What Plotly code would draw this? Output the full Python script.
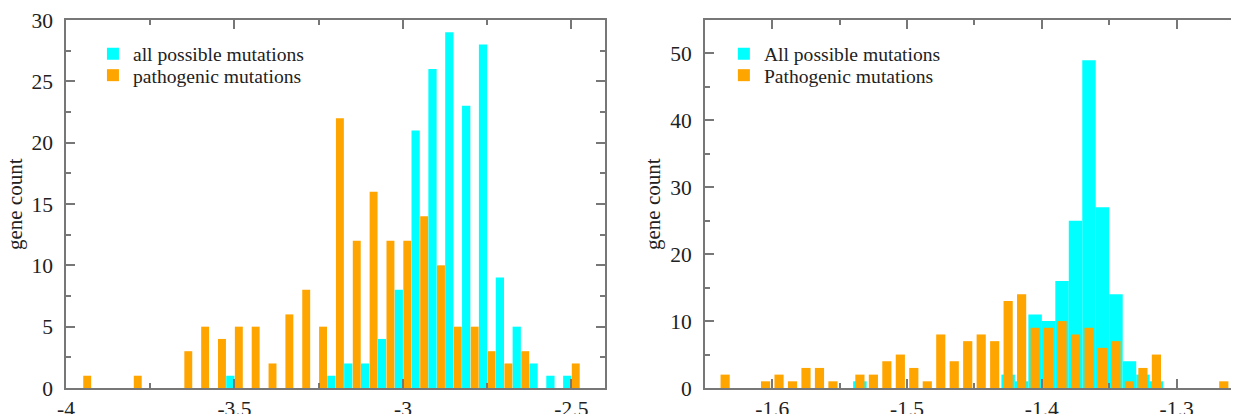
import plotly.graph_objects as go

# ---------------- data ----------------
# Left panel: bin centres (step 0.05) and counts
left_bins = [-4.00, -3.95, -3.90, -3.85, -3.80, -3.75, -3.70, -3.65, -3.60, -3.55,
             -3.50, -3.45, -3.40, -3.35, -3.30, -3.25, -3.20, -3.15, -3.10, -3.05,
             -3.00, -2.95, -2.90, -2.85, -2.80, -2.75, -2.70, -2.65, -2.60, -2.55,
             -2.50, -2.45]
left_all = [0, 0, 0, 0, 0, 0, 0, 0, 0, 0,
            1, 0, 0, 0, 0, 0, 1, 2, 2, 4,
            8, 21, 26, 29, 23, 28, 9, 5, 2, 1,
            1, 0]
left_path = [0, 1, 0, 0, 1, 0, 0, 3, 5, 4,
             5, 5, 2, 6, 8, 5, 22, 12, 16, 12,
             12, 14, 10, 5, 5, 3, 2, 3, 0, 0,
             2, 0]

# Right panel: bin centres (step 0.01) and counts
right_bins = [-1.645, -1.635, -1.625, -1.615, -1.605, -1.595, -1.585, -1.575, -1.565, -1.555,
              -1.545, -1.535, -1.525, -1.515, -1.505, -1.495, -1.485, -1.475, -1.465, -1.455,
              -1.445, -1.435, -1.425, -1.415, -1.405, -1.395, -1.385, -1.375, -1.365, -1.355,
              -1.345, -1.335, -1.325, -1.315, -1.305, -1.295, -1.285, -1.275, -1.265, -1.255]
right_all = [0, 0, 0, 0, 0, 0, 0, 0, 0, 0,
             0, 1, 0, 0, 0, 0, 0, 0, 0, 0,
             0, 0, 2, 1, 11, 10, 16, 25, 49, 27,
             14, 4, 2, 1, 0, 0, 0, 0, 0, 0]
right_path = [0, 2, 0, 0, 1, 2, 1, 3, 3, 1,
              0, 2, 2, 4, 5, 3, 1, 8, 4, 7,
              8, 7, 13, 14, 9, 9, 10, 8, 9, 6,
              7, 1, 3, 5, 0, 0, 0, 0, 1, 0]

left_names = ["all possible mutations", "pathogenic mutations"]
right_names = ["All possible mutations", "Pathogenic mutations"]

left_xticks = [-4, -3.5, -3, -2.5]
left_xticktext = ["-4", "-3.5", "-3", "-2.5"]
left_xminor = [-3.75, -3.25, -2.75]
right_xticks = [-1.6, -1.5, -1.4, -1.3]
right_xticktext = ["-1.6", "-1.5", "-1.4", "-1.3"]
right_xminor = [-1.55, -1.45, -1.35]

y_title = "gene count"

CYAN = "#00FFFF"
ORANGE = "#FFA500"
FONT = "Liberation Serif"
AXIS = "#777777"
TXT = "#222222"

W, H = 1239, 414
ml, mr, mt, mb = 58, 1, 12, 23
pw = W - ml - mr
ph = H - mt - mb


def px_x(p):
    return (p - ml) / pw


def px_y(p):
    return 1 - (p - mt) / ph


fig = go.Figure()

# left panel: cyan on the left half of each bin, orange on the right half
fig.add_trace(go.Bar(x=left_bins, y=left_all, name=left_names[0],
                     marker=dict(color=CYAN, line=dict(width=0)),
                     width=0.0245, offset=-0.0245, xaxis="x", yaxis="y",
                     legend="legend"))
fig.add_trace(go.Bar(x=left_bins, y=left_path, name=left_names[1],
                     marker=dict(color=ORANGE, line=dict(width=0)),
                     width=0.0235, offset=0.0012, xaxis="x", yaxis="y",
                     legend="legend2"))

# right panel: cyan full-width histogram, orange narrower bars on top
fig.add_trace(go.Bar(x=right_bins, y=right_all, name=right_names[0],
                     marker=dict(color=CYAN, line=dict(width=0)),
                     width=0.01, offset=-0.005, xaxis="x2", yaxis="y2",
                     legend="legend3"))
fig.add_trace(go.Bar(x=right_bins, y=right_path, name=right_names[1],
                     marker=dict(color=ORANGE, line=dict(width=0)),
                     width=0.0068, offset=-0.0034, xaxis="x2", yaxis="y2",
                     legend="legend4"))

common_axis = dict(showline=True, linecolor=AXIS, linewidth=1.5, mirror="ticks",
                   ticks="inside", ticklen=9, tickwidth=1.5, tickcolor=AXIS,
                   showgrid=False, zeroline=False, ticklabeloverflow="allow",
                   tickfont=dict(family=FONT, size=21.5, color=TXT))

minor_common = dict(ticks="inside", ticklen=5, tickwidth=1.5, tickcolor=AXIS, showgrid=False)


def leg(xp, yp):
    return dict(x=px_x(xp), y=px_y(yp), xanchor="left", yanchor="top",
                bgcolor="rgba(0,0,0,0)", borderwidth=0,
                font=dict(family=FONT, size=19.6, color=TXT))


fig.update_layout(
    width=W, height=H,
    margin=dict(l=ml, r=mr, t=mt, b=mb),
    paper_bgcolor="white", plot_bgcolor="white",
    barmode="overlay",
    showlegend=True,
    font=dict(family=FONT, size=20, color=TXT),
    xaxis=dict(domain=[0, 540 / pw], range=[-4, -2.4], anchor="y",
               tickmode="array", tickvals=left_xticks, ticktext=left_xticktext,
               minor=dict(tickvals=left_xminor, **minor_common), **common_axis),
    yaxis=dict(domain=[0, 1], range=[0, 30], anchor="x", tick0=0, dtick=5,
               ticklabelstandoff=7,
               minor=dict(dtick=2.5, **minor_common), **common_axis),
    xaxis2=dict(domain=[640 / pw, 1.0], range=[-1.65, -1.25], anchor="y2",
                tickmode="array", tickvals=right_xticks, ticktext=right_xticktext,
                minor=dict(tickvals=right_xminor, **minor_common), **common_axis),
    yaxis2=dict(domain=[0, 1], range=[0, 55], anchor="x2", tick0=0, dtick=10,
                ticklabelstandoff=7,
                minor=dict(dtick=5, **minor_common), **common_axis),
    legend=leg(85, 27),
    legend2=leg(85, 49),
    legend3=leg(717, 27),
    legend4=leg(717, 49),
    annotations=[
        dict(text=y_title, xref="paper", yref="paper", x=px_x(7), y=0.5,
             xanchor="center", yanchor="middle", textangle=-90, showarrow=False,
             font=dict(family=FONT, size=21, color=TXT)),
        dict(text=y_title, xref="paper", yref="paper", x=px_x(646), y=0.5,
             xanchor="center", yanchor="middle", textangle=-90, showarrow=False,
             font=dict(family=FONT, size=21, color=TXT)),
    ],
)

fig.write_html("out.html")
